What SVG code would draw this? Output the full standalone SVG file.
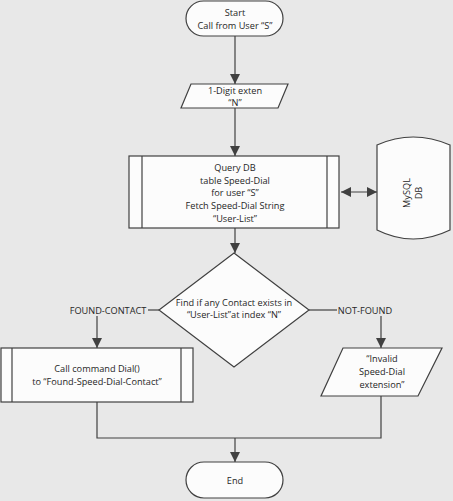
<svg xmlns="http://www.w3.org/2000/svg" width="453" height="501" viewBox="0 0 453 501">
<style>
.s{fill:#fcfcfc;stroke:#404040;stroke-width:1.2}
.t{font-family:"Open Sans","Noto Sans",sans-serif;font-size:9.2px;fill:#262626;text-anchor:middle}
.c{fill:none;stroke:#404040;stroke-width:1.2}
</style>
<defs>
<marker id="a" viewBox="0 0 10 10" refX="10" refY="5" markerWidth="10" markerHeight="10" markerUnits="userSpaceOnUse" orient="auto-start-reverse">
<path d="M0,0L10,5L0,10z" fill="#404040"/>
</marker>
</defs>
<rect width="453" height="501" fill="#e8e8e8"/>
<g id="connectors">
<line class="c" x1="235" y1="36" x2="235" y2="84" marker-end="url(#a)"/>
<line class="c" x1="235" y1="108" x2="235" y2="156" marker-end="url(#a)"/>
<line class="c" x1="341" y1="192" x2="377" y2="192" marker-start="url(#a)" marker-end="url(#a)"/>
<line class="c" x1="235" y1="228" x2="235" y2="253" marker-end="url(#a)"/>
<line class="c" x1="159" y1="310" x2="148" y2="310"/>
<line class="c" x1="97" y1="316" x2="97" y2="348" marker-end="url(#a)"/>
<line class="c" x1="309" y1="310" x2="337" y2="310"/>
<line class="c" x1="381" y1="316" x2="381" y2="348" marker-end="url(#a)"/>
<polyline class="c" points="97,402 97,438 381,438 381,396"/>
<line class="c" x1="235" y1="438" x2="235" y2="462" marker-end="url(#a)"/>
<text class="t" x="108" y="313.5">FOUND-CONTACT</text>
<text class="t" x="365" y="313.5">NOT-FOUND</text>
</g>
<g id="start">
<rect class="s" x="186" y="1" width="97" height="35" rx="17.5"/>
<text class="t" x="235" y="15.5">Start</text>
<text class="t" x="235" y="28.5">Call from User “S”</text>
</g>
<g id="input">
<polygon class="s" points="191,84 288,84 278,108 181,108"/>
<text class="t" x="235" y="94">1-Digit exten</text>
<text class="t" x="235" y="106">“N”</text>
</g>
<g id="query">
<rect class="s" x="129" y="156" width="210" height="72"/>
<line class="c" x1="142" y1="156" x2="142" y2="228"/>
<line class="c" x1="327" y1="156" x2="327" y2="228"/>
<text class="t" x="235" y="170.5">Query DB</text>
<text class="t" x="235" y="183.5">table Speed-Dial</text>
<text class="t" x="235" y="196">for user “S”</text>
<text class="t" x="235" y="208.5">Fetch Speed-Dial String</text>
<text class="t" x="235" y="221.5">“User-List”</text>
</g>
<g id="db">
<path class="s" d="M377,145 Q413,129 450,145 L450,230 Q413,248 377,230 Z"/>
<text class="t" transform="translate(410,193) rotate(-90)">MySQL</text>
<text class="t" transform="translate(422,193) rotate(-90)">DB</text>
</g>
<g id="decision">
<polygon class="s" points="234,253 309,310 234,367 159,310"/>
<text class="t" x="234" y="306">Find if any Contact exists in</text>
<text class="t" x="234" y="318">“User-List”at index “N”</text>
</g>
<g id="dial">
<rect class="s" x="1" y="348" width="192" height="54"/>
<line class="c" x1="12" y1="348" x2="12" y2="402"/>
<line class="c" x1="181" y1="348" x2="181" y2="402"/>
<text class="t" x="97" y="371.5">Call command Dial()</text>
<text class="t" x="97" y="384.5">to “Found-Speed-Dial-Contact”</text>
</g>
<g id="invalid">
<polygon class="s" points="343,348 442,348 418,396 321,396"/>
<text class="t" x="382" y="361.5">“Invalid</text>
<text class="t" x="382" y="375">Speed-Dial</text>
<text class="t" x="382" y="388">extension”</text>
</g>
<g id="end">
<rect class="s" x="186" y="462" width="97" height="36" rx="18"/>
<text class="t" x="235" y="483.5">End</text>
</g>
</svg>
